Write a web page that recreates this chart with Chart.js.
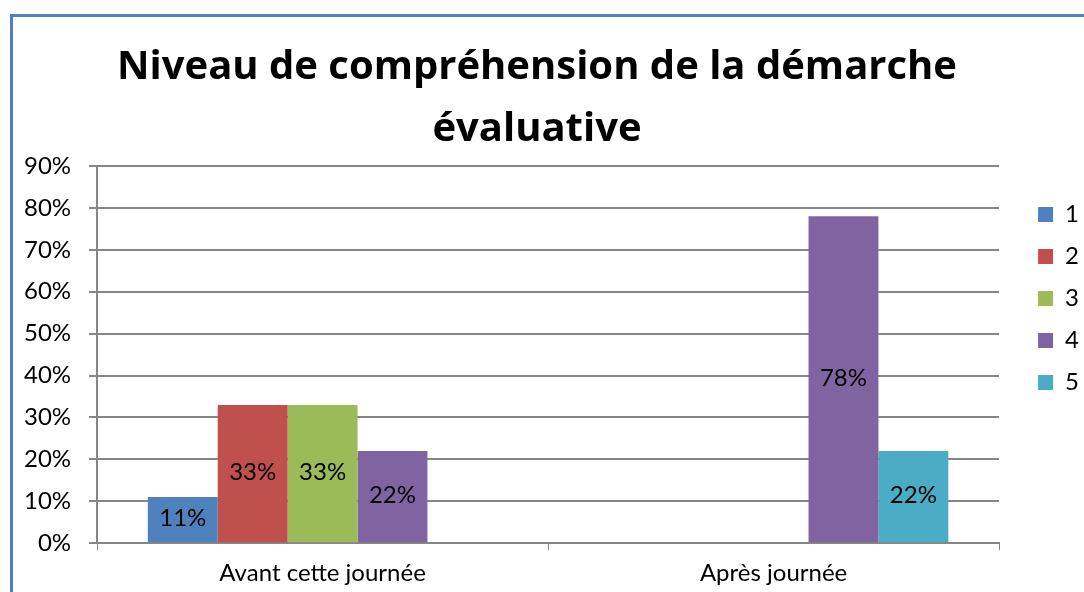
<!DOCTYPE html>
<html>
<head>
<meta charset="utf-8">
<script src="https://cdn.jsdelivr.net/npm/chart.js@4.4.1/dist/chart.umd.min.js"></script>
<style>
  html, body { margin: 0; padding: 0; background: #fff; }
  #wrap { position: relative; width: 1084px; height: 592px; overflow: hidden; }
  #frame { position: absolute; left: 10px; top: 14px; width: 2000px; height: 2000px;
           border-left: 3px solid #4F81BD; border-top: 3px solid #4F81BD; }
  #chart { position: absolute; left: 0; top: 0; }
</style>
</head>
<body>
<div id="wrap">
  <div id="frame"></div>
  <canvas id="chart" width="1084" height="592"></canvas>
</div>
<script>
const categories = ["Avant cette journée", "Après journée"];
const seriesNames = ["1", "2", "3", "4", "5"];
const seriesColors = ["#4F81BD", "#C0504D", "#9BBB59", "#8064A2", "#4BACC6"];
const values1 = [11, 0];
const values2 = [33, 0];
const values3 = [33, 0];
const values4 = [22, 78];
const values5 = [0, 22];
const yTicks = [0, 10, 20, 30, 40, 50, 60, 70, 80, 90];

const FONT = "Lato, 'Open Sans', sans-serif";
const TITLE_FONT = "'Open Sans', Lato, sans-serif";
const allValues = [values1, values2, values3, values4, values5];

// value labels in the middle of each bar (skip empty ones)
const barLabels = {
    id: "barLabels",
    afterDatasetsDraw(chart) {
        const ctx = chart.ctx;
        ctx.save();
        ctx.font = "24px " + FONT;
        ctx.fillStyle = "#000";
        ctx.textAlign = "center";
        ctx.textBaseline = "middle";
        chart.data.datasets.forEach((ds, i) => {
            chart.getDatasetMeta(i).data.forEach((bar, j) => {
                const v = ds.data[j];
                if (!v) return;
                ctx.fillText(v + "%", bar.x, (bar.y + bar.base) / 2 - 1);
            });
        });
        ctx.restore();
    }
};

// push the legend a bit further right, closer to the frame edge like the original
const legendShift = {
    id: "legendShift",
    afterLayout(chart) {
        const lg = chart.legend;
        if (!lg) return;
        lg.left += 21;
        lg.right += 21;
    }
};

new Chart(document.getElementById("chart").getContext("2d"), {
    type: "bar",
    data: {
        labels: categories,
        datasets: seriesNames.map((name, i) => ({
            label: name,
            data: allValues[i],
            backgroundColor: seriesColors[i],
            borderWidth: 0,
            barPercentage: 1,
            categoryPercentage: 0.775,
        })),
    },
    options: {
        responsive: false,
        animation: false,
        layout: { padding: { left: 6, right: 16, top: 0, bottom: -5 } },
        plugins: {
            title: {
                display: true,
                text: ["Niveau de compréhension de la démarche", "évaluative"],
                color: "#000",
                font: { family: TITLE_FONT, size: 40, weight: "bold", lineHeight: 1.55 },
                padding: { top: 37, bottom: 5 },
            },
            legend: {
                position: "right",
                align: "center",
                labels: {
                    color: "#000",
                    font: { family: FONT, size: 24 },
                    boxWidth: 15,
                    boxHeight: 15,
                    padding: 18,
                },
            },
            tooltip: { enabled: false },
        },
        scales: {
            x: {
                grid: { display: true, drawOnChartArea: false, color: "#868686", tickLength: 7, offset: true },
                border: { color: "#868686", width: 2 },
                ticks: { color: "#000", font: { family: FONT, size: 24 }, padding: 9 },
            },
            y: {
                min: 0,
                max: 90,
                afterBuildTicks: (axis) => { axis.ticks = yTicks.map(v => ({ value: v })); },
                grid: { color: "#868686", lineWidth: 2, tickLength: 8 },
                border: { color: "#868686", width: 2 },
                ticks: { color: "#000", font: { family: FONT, size: 24 }, padding: 18, callback: v => v + "%" },
            },
        },
    },
    plugins: [barLabels, legendShift],
});
</script>
</body>
</html>
